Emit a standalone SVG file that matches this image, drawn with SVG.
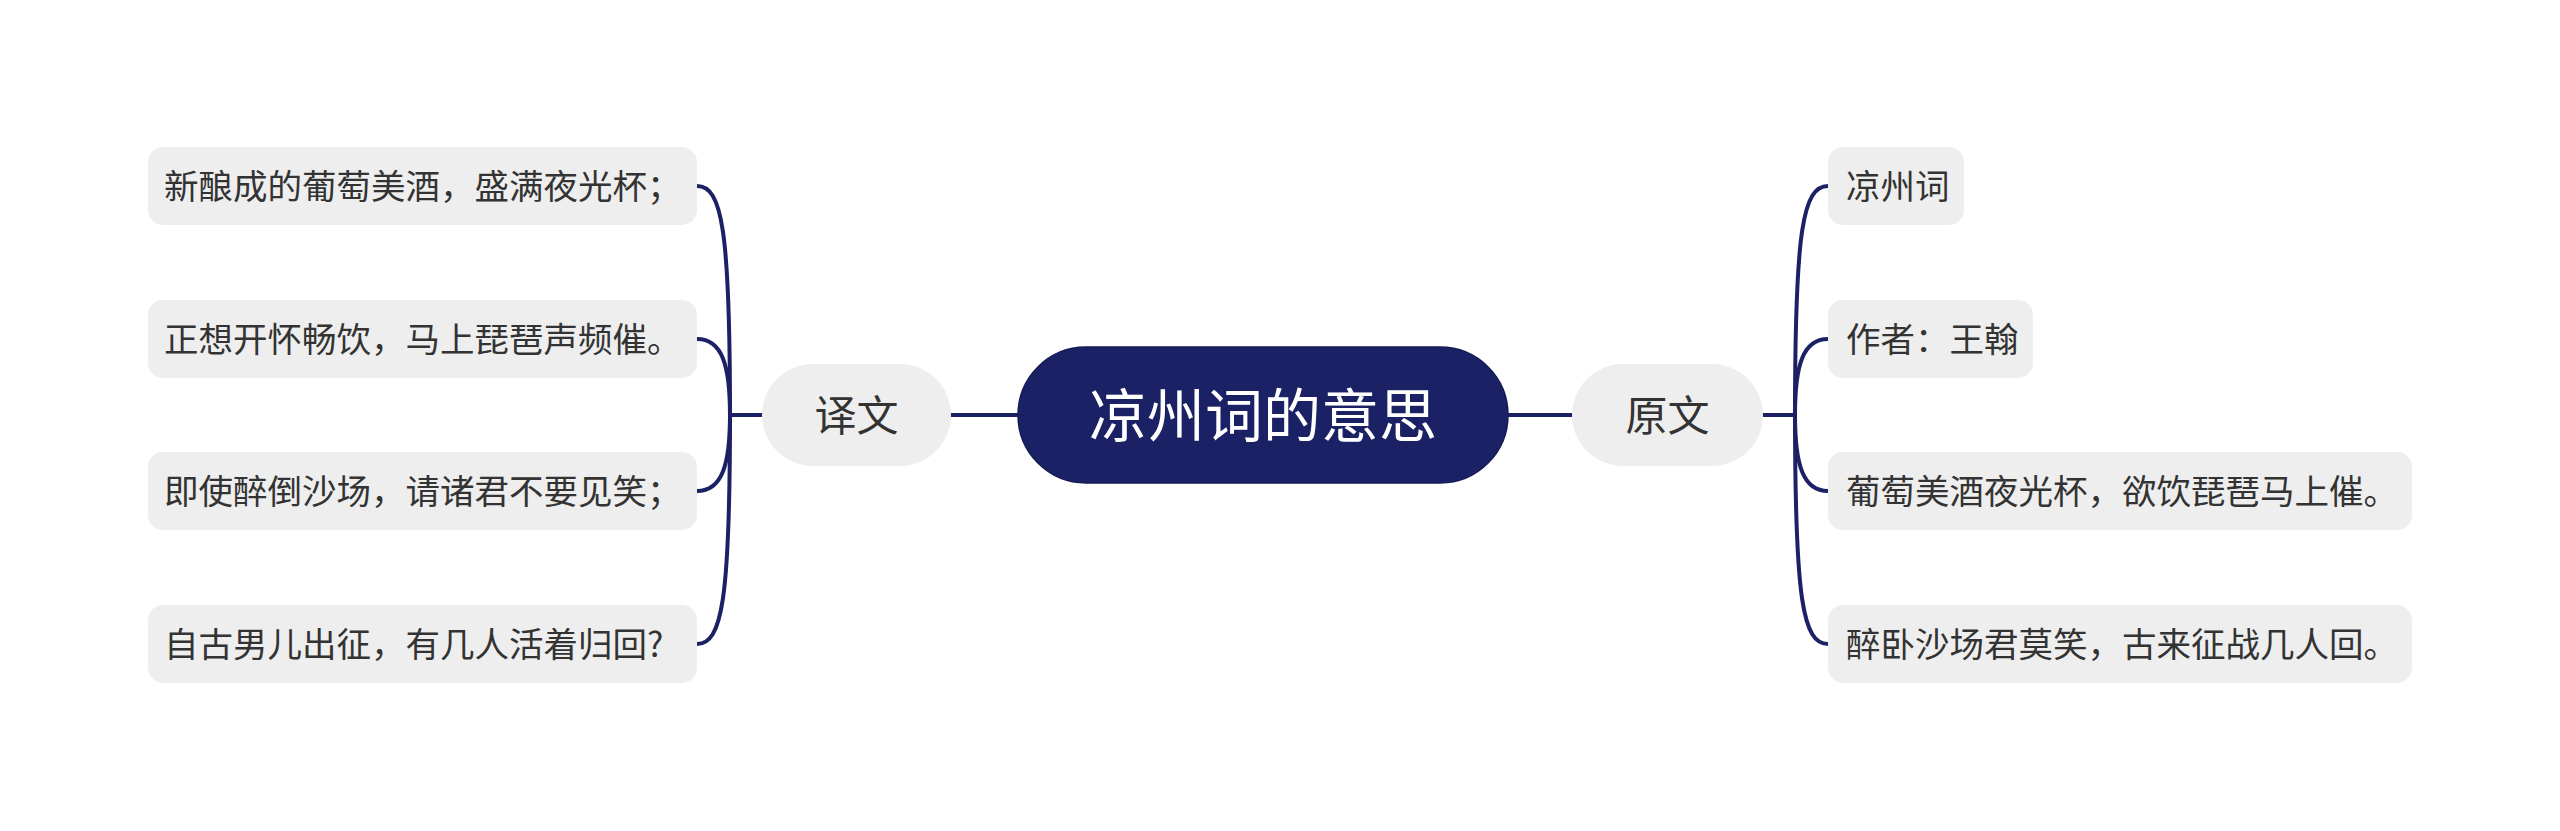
<svg xmlns="http://www.w3.org/2000/svg" width="2560" height="831" viewBox="0 0 2560 831">
<style>
.leaf rect{fill:#eeeeee}
.leaf text{font-family:"Noto Sans CJK SC","Noto Sans",sans-serif;font-size:34.5px;fill:#333333}
.sub rect{fill:#eeeeee}
.sub text{font-family:"Noto Sans CJK SC","Noto Sans",sans-serif;font-size:42px;fill:#333333;text-anchor:middle}
.conn path{fill:none;stroke:#1b2164;stroke-width:4;stroke-linecap:round}
</style>
<rect width="2560" height="831" fill="#ffffff"/>
<g id="connectors" class="conn">
<path d="M951 415 L1018 415"/>
<path d="M1508 415 L1572 415"/>
<path d="M762 415 L730 415"/>
<path d="M730 415 C730 230 722 186 697 186"/>
<path d="M730 415 C730 365 722 339 697 339"/>
<path d="M730 415 C730 465 722 491 697 491"/>
<path d="M730 415 C730 600 722 644 697 644"/>
<path d="M1763 415 L1795 415"/>
<path d="M1795 415 C1795 230 1803 186 1828 186"/>
<path d="M1795 415 C1795 365 1803 339 1828 339"/>
<path d="M1795 415 C1795 465 1803 491 1828 491"/>
<path d="M1795 415 C1795 600 1803 644 1828 644"/>
</g>
<g id="root">
<rect x="1018" y="347" width="490" height="136" rx="68" fill="#1b2165" stroke="#141a52" stroke-width="1.5"/>
<text x="1263" y="437" font-family="'Noto Sans CJK SC','Noto Sans',sans-serif" font-size="58" fill="#ffffff" text-anchor="middle">凉州词的意思</text>
</g>
<g id="yiwen" class="sub">
<rect x="762" y="364" width="189" height="102" rx="51"/>
<text x="856.5" y="431">译文</text>
</g>
<g id="yuanwen" class="sub">
<rect x="1572" y="364" width="191" height="102" rx="51"/>
<text x="1667.5" y="431">原文</text>
</g>
<g id="yw1" class="leaf">
<rect x="148" y="147" width="549" height="78" rx="15"/>
<text x="164" y="199">新酿成的葡萄美酒，盛满夜光杯；</text>
</g>
<g id="yw2" class="leaf">
<rect x="148" y="300" width="549" height="78" rx="15"/>
<text x="164" y="352">正想开怀畅饮，马上琵琶声频催。</text>
</g>
<g id="yw3" class="leaf">
<rect x="148" y="452" width="549" height="78" rx="15"/>
<text x="164" y="504">即使醉倒沙场，请诸君不要见笑；</text>
</g>
<g id="yw4" class="leaf">
<rect x="148" y="605" width="549" height="78" rx="15"/>
<text x="164" y="657">自古男儿出征，有几人活着归回?</text>
</g>
<g id="yu1" class="leaf">
<rect x="1828" y="147" width="136" height="78" rx="15"/>
<text x="1846" y="199">凉州词</text>
</g>
<g id="yu2" class="leaf">
<rect x="1828" y="300" width="205" height="78" rx="15"/>
<text x="1846" y="352">作者：王翰</text>
</g>
<g id="yu3" class="leaf">
<rect x="1828" y="452" width="584" height="78" rx="15"/>
<text x="1846" y="504">葡萄美酒夜光杯，欲饮琵琶马上催。</text>
</g>
<g id="yu4" class="leaf">
<rect x="1828" y="605" width="584" height="78" rx="15"/>
<text x="1846" y="657">醉卧沙场君莫笑，古来征战几人回。</text>
</g>
</svg>
